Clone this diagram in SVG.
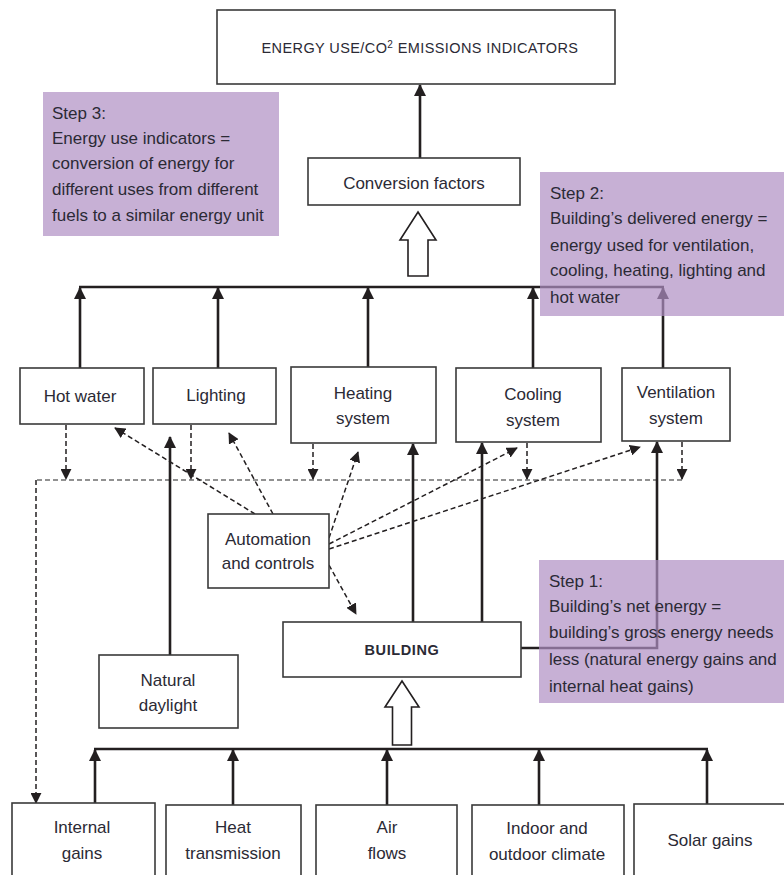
<svg xmlns="http://www.w3.org/2000/svg" width="784" height="875" viewBox="0 0 784 875">
<defs>
<style>
.box{fill:#fff;stroke:#3a3a3a;stroke-width:1.6}
.lbl{font-family:"Liberation Sans",Arial,sans-serif;font-size:17px;fill:#2b2a35;text-anchor:middle}
.cap{font-family:"Liberation Sans",Arial,sans-serif;font-size:14.5px;font-weight:bold;fill:#2b2a35;text-anchor:middle}
.step{font-family:"Liberation Sans",Arial,sans-serif;font-size:17px;fill:#2b2a35}
.solid{fill:none;stroke:#231f20;stroke-width:2.6}
.dash{fill:none;stroke:#231f20;stroke-width:1.5;stroke-dasharray:5 3}
.dashg{fill:none;stroke:#6e6e6e;stroke-width:1.6;stroke-dasharray:5 3}
.purple{fill:#af8ec3;fill-opacity:0.7}
.hollow{fill:#fff;stroke:#231f20;stroke-width:1.6}
</style>
<marker id="ah" viewBox="0 0 12 12" refX="11" refY="6" markerWidth="12" markerHeight="12" markerUnits="userSpaceOnUse" orient="auto">
<path d="M0,0 L12,6 L0,12 z" fill="#231f20"/>
</marker>
<marker id="ahd" viewBox="0 0 12 12" refX="11" refY="6" markerWidth="11" markerHeight="11" markerUnits="userSpaceOnUse" orient="auto">
<path d="M0,0 L12,6 L0,12 z" fill="#231f20"/>
</marker>
</defs>
<rect width="784" height="875" fill="#fff"/>

<g id="connectors">
<line class="solid" x1="420" y1="158" x2="420" y2="85" marker-end="url(#ah)"/>
<path class="hollow" d="M418,212 L436,240 L428,240 L428,276 L408,276 L408,240 L400,240 Z"/>
<line class="solid" x1="79" y1="287" x2="664" y2="287"/>
<line class="solid" x1="80" y1="368" x2="80" y2="288" marker-end="url(#ah)"/>
<line class="solid" x1="218" y1="368" x2="218" y2="288" marker-end="url(#ah)"/>
<line class="solid" x1="368" y1="367" x2="368" y2="288" marker-end="url(#ah)"/>
<line class="solid" x1="533" y1="368" x2="533" y2="288" marker-end="url(#ah)"/>
<line class="solid" x1="663" y1="368" x2="663" y2="288" marker-end="url(#ah)"/>
<polyline class="dashg" points="682,480 36,480"/>
<line class="dash" x1="36" y1="480" x2="36" y2="803" marker-end="url(#ahd)"/>
<line class="dash" x1="66" y1="425" x2="66" y2="479" marker-end="url(#ahd)"/>
<line class="dash" x1="191" y1="425" x2="191" y2="479" marker-end="url(#ahd)"/>
<line class="dash" x1="313" y1="444" x2="313" y2="479" marker-end="url(#ahd)"/>
<line class="dash" x1="527" y1="443" x2="527" y2="479" marker-end="url(#ahd)"/>
<line class="dash" x1="682" y1="442" x2="682" y2="479" marker-end="url(#ahd)"/>
<line class="dash" x1="255" y1="514" x2="115" y2="428" marker-end="url(#ahd)"/>
<line class="dash" x1="273" y1="514" x2="229" y2="433" marker-end="url(#ahd)"/>
<line class="dash" x1="329" y1="538" x2="358" y2="452" marker-end="url(#ahd)"/>
<line class="dash" x1="329" y1="544" x2="517" y2="448" marker-end="url(#ahd)"/>
<line class="dash" x1="329" y1="549" x2="640" y2="447" marker-end="url(#ahd)"/>
<line class="dash" x1="329" y1="565" x2="356" y2="614" marker-end="url(#ahd)"/>
<line class="solid" x1="413" y1="622" x2="413" y2="444" marker-end="url(#ah)"/>
<line class="solid" x1="482" y1="622" x2="482" y2="443" marker-end="url(#ah)"/>
<polyline class="solid" points="521,648 657,648 657,442" marker-end="url(#ah)"/>
<line class="solid" x1="170" y1="655" x2="170" y2="437" marker-end="url(#ah)"/>
<path class="hollow" d="M402,681 L419,707 L411.5,707 L411.5,745 L392.5,745 L392.5,707 L385,707 Z"/>
<line class="solid" x1="94" y1="749" x2="708" y2="749"/>
<line class="solid" x1="95" y1="803" x2="95" y2="750" marker-end="url(#ah)"/>
<line class="solid" x1="233" y1="805" x2="233" y2="750" marker-end="url(#ah)"/>
<line class="solid" x1="387" y1="805" x2="387" y2="750" marker-end="url(#ah)"/>
<line class="solid" x1="539" y1="805" x2="539" y2="750" marker-end="url(#ah)"/>
<line class="solid" x1="707" y1="804" x2="707" y2="750" marker-end="url(#ah)"/>
</g>

<g id="indicators">
<rect class="box" x="217" y="10" width="398" height="74"/>
<text class="cap" x="420" y="53" style="font-weight:normal;font-size:14.5px;letter-spacing:0.4px">ENERGY USE/CO<tspan dy="-5" font-size="10">2</tspan><tspan dy="5"> EMISSIONS INDICATORS</tspan></text>
</g>
<g id="conversion">
<rect class="box" x="308" y="158" width="212" height="47"/>
<text class="lbl" x="414" y="189">Conversion factors</text>
</g>
<g id="hotwater">
<rect class="box" x="20" y="368" width="124" height="56"/>
<text class="lbl" x="80" y="402">Hot water</text>
</g>
<g id="lighting">
<rect class="box" x="153" y="368" width="123" height="56"/>
<text class="lbl" x="216" y="401">Lighting</text>
</g>
<g id="heating">
<rect class="box" x="291" y="367" width="145" height="76"/>
<text class="lbl" x="363" y="399">Heating</text>
<text class="lbl" x="363" y="424">system</text>
</g>
<g id="cooling">
<rect class="box" x="456" y="368" width="145" height="74"/>
<text class="lbl" x="533" y="400">Cooling</text>
<text class="lbl" x="533" y="426">system</text>
</g>
<g id="ventilation">
<rect class="box" x="622" y="368" width="108" height="73"/>
<text class="lbl" x="676" y="398">Ventilation</text>
<text class="lbl" x="676" y="424">system</text>
</g>
<g id="automation">
<rect class="box" x="208" y="514" width="121" height="74"/>
<text class="lbl" x="268" y="545">Automation</text>
<text class="lbl" x="268" y="569">and controls</text>
</g>
<g id="building">
<rect class="box" x="283" y="622" width="238" height="55"/>
<text class="cap" x="402" y="655" style="letter-spacing:0.6px">BUILDING</text>
</g>
<g id="daylight">
<rect class="box" x="99" y="655" width="139" height="73"/>
<text class="lbl" x="168" y="686">Natural</text>
<text class="lbl" x="168" y="711">daylight</text>
</g>
<g id="internal">
<rect class="box" x="12" y="803" width="143" height="80"/>
<text class="lbl" x="82" y="833">Internal</text>
<text class="lbl" x="82" y="859">gains</text>
</g>
<g id="transmission">
<rect class="box" x="166" y="805" width="135" height="80"/>
<text class="lbl" x="233" y="833">Heat</text>
<text class="lbl" x="233" y="859">transmission</text>
</g>
<g id="airflows">
<rect class="box" x="316" y="805" width="141" height="80"/>
<text class="lbl" x="387" y="833">Air</text>
<text class="lbl" x="387" y="859">flows</text>
</g>
<g id="climate">
<rect class="box" x="472" y="805" width="152" height="80"/>
<text class="lbl" x="547" y="834">Indoor and</text>
<text class="lbl" x="547" y="860">outdoor climate</text>
</g>
<g id="solar">
<rect class="box" x="634" y="804" width="160" height="80"/>
<text class="lbl" x="710" y="846">Solar gains</text>
</g>

<g id="step3">
<rect class="purple" x="43" y="92" width="236" height="144"/>
<text class="step" x="52" y="119">Step 3:</text>
<text class="step" x="52" y="144">Energy use indicators =</text>
<text class="step" x="52" y="169">conversion of energy for</text>
<text class="step" x="52" y="195">different uses from different</text>
<text class="step" x="52" y="221">fuels to a similar energy unit</text>
</g>
<g id="step2">
<rect class="purple" x="540" y="172" width="250" height="144"/>
<text class="step" x="550" y="199">Step 2:</text>
<text class="step" x="550" y="224">Building’s delivered energy =</text>
<text class="step" x="550" y="251">energy used for ventilation,</text>
<text class="step" x="550" y="276">cooling, heating, lighting and</text>
<text class="step" x="550" y="303">hot water</text>
</g>
<g id="step1">
<rect class="purple" x="539" y="560" width="250" height="143"/>
<text class="step" x="549" y="587">Step 1:</text>
<text class="step" x="549" y="612">Building’s net energy =</text>
<text class="step" x="549" y="638">building’s gross energy needs</text>
<text class="step" x="549" y="665">less (natural energy gains and</text>
<text class="step" x="549" y="692">internal heat gains)</text>
</g>
</svg>
